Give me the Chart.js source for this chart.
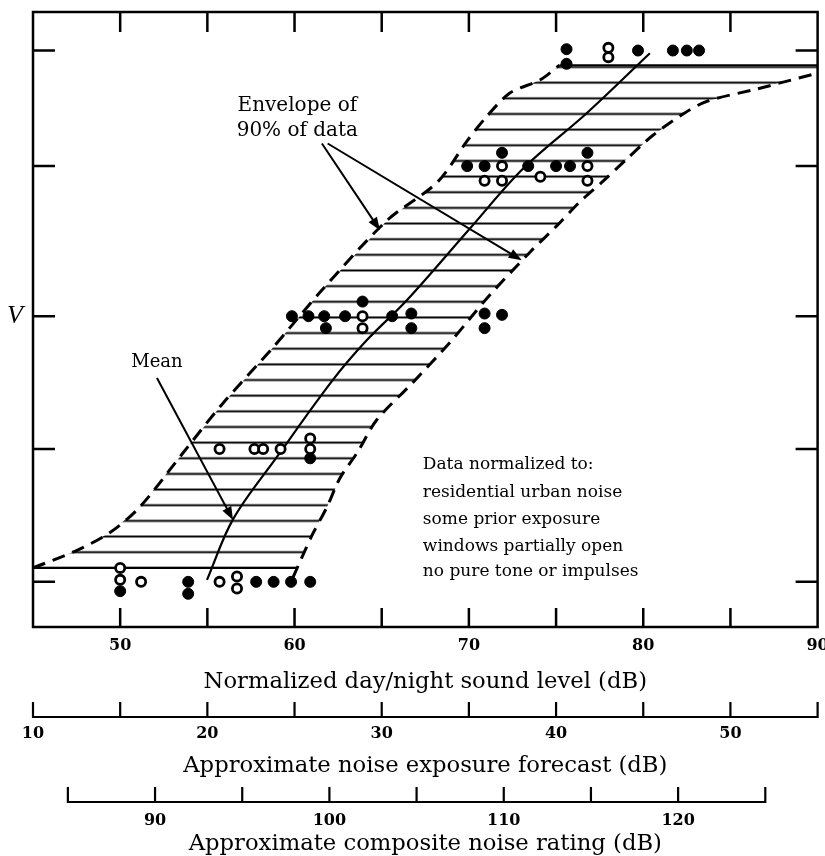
<!DOCTYPE html>
<html><head><meta charset="utf-8">
<script src="https://cdn.jsdelivr.net/npm/chart.js@4.4.1/dist/chart.umd.min.js"></script>
<style>html,body{margin:0;padding:0;background:#fff}canvas{display:block}</style>
</head><body>
<canvas id="c" width="825" height="856"></canvas>
<script>
// ---- axes / tick labels ----
const ldnTickMarks = [50, 55, 60, 65, 70, 75, 80, 85];
const ldnLabels = [50, 60, 70, 80, 90];
const nefTickMarks = [10, 15, 20, 25, 30, 35, 40, 45, 50, 55];
const nefLabels = [10, 20, 30, 40, 50];
const cnrTickMarks = [85, 90, 95, 100, 105, 110, 115, 120, 125];
const cnrLabels = [90, 100, 110, 120];
const reactionLevels = [0, 1, 2, 3.13, 4];
const reactionLabels = ['', '', 'V', '', ''];

// ---- observations (filled / open markers) ----
const filledX = [50.0, 53.9, 53.9, 57.8, 58.8, 59.8, 60.9,
  60.9,
  59.85, 60.8, 61.7, 61.8, 62.9, 63.9, 65.6, 66.7, 66.7, 70.9, 70.9, 71.9,
  69.9, 70.9, 71.9, 73.4, 75.0, 75.8, 76.8,
  75.6, 75.6, 79.7, 81.7, 82.5, 83.2];
const filledY = [-0.07, 0, -0.09, 0, 0, 0, 0,
  0.93,
  2, 2, 2, 1.91, 2, 2.11, 2, 2.02, 1.91, 2.02, 1.91, 2.01,
  3.13, 3.13, 3.23, 3.13, 3.13, 3.13, 3.23,
  4.01, 3.9, 4.0, 4.0, 4.0, 4.0];
const openX = [50.0, 50.0, 51.2, 55.7, 56.7, 56.7,
  55.7, 57.7, 58.2, 59.2, 60.9, 60.9,
  63.9, 63.9,
  70.9, 71.9, 71.9, 74.1, 76.8, 76.8,
  78.0, 78.0];
const openY = [0.105, 0.015, 0, 0, 0.04, -0.05,
  1.0, 1.0, 1.0, 1.0, 1.08, 1.0,
  2.0, 1.91,
  3.02, 3.13, 3.02, 3.05, 3.13, 3.02,
  4.02, 3.95];

// ---- mean curve ----
const meanX = [54.98, 56.47, 58.99, 62.2, 64.15, 66.44, 70.06, 73.1, 76.77, 80.38];
const meanY = [0.015, 0.47, 0.94, 1.52, 1.82, 2.12, 2.66, 3.11, 3.53, 3.98];

// ---- 90% envelope ----
const envLeftX = [45.0, 47.4, 49.4, 51.1, 53.6, 55.8, 58.8, 61.6, 65.3, 68.2, 69.9, 71.0, 72.35, 74.1, 75.2];
const envLeftY = [0.105, 0.23, 0.37, 0.56, 0.97, 1.33, 1.77, 2.2, 2.72, 3.01, 3.32, 3.5, 3.68, 3.78, 3.89];
const envRightX = [59.9, 61.0, 61.85, 62.6, 63.63, 64.72, 66.78, 68.9, 70.05, 71.2, 73.49, 75.04, 76.36, 77.73, 79.11, 80.54, 82.38, 83.7, 86.5, 90.0];
const envRightY = [0.03, 0.35, 0.56, 0.78, 0.98, 1.22, 1.5, 1.8, 1.98, 2.16, 2.48, 2.68, 2.86, 3.02, 3.19, 3.36, 3.53, 3.62, 3.71, 3.83];
const envTopX = [75.2, 90.0];
const envTopY = [3.89, 3.89];
const envBottomX = [45.0, 60.1];
const envBottomY = [0.105, 0.105];

// ---- annotation texts ----
const envelopeText = ['Envelope of', '90% of data'];
const meanText = 'Mean';
const noteLines = ['Data normalized to:', 'residential urban noise', 'some prior exposure', 'windows partially open', 'no pure tone or impulses'];

const pts = (xs, ys) => xs.map((v, i) => ({x: v, y: ys[i]}));

// envelope polygon: left (up), top (right), right (down), bottom (left)
const rightDown = pts(envRightX, envRightY).reverse().filter(p => p.y >= envBottomY[0]);
const envPolygon = [...pts(envLeftX, envLeftY), ...pts(envTopX, envTopY), ...rightDown, ...pts(envBottomX, envBottomY).reverse()];

const SERIF = '"DejaVu Serif", "Liberation Serif", serif';

function makeHatch(ctx) {
  const c = document.createElement('canvas');
  c.width = 8; c.height = 16;
  const g = c.getContext('2d');
  g.fillStyle = '#000';
  g.fillRect(0, 3.5, 8, 2.0);
  const p = ctx.createPattern(c, 'repeat');
  if (p.setTransform) p.setTransform(new DOMMatrix().scale(1, 15.65 / 16));
  return p;
}

function arrow(ctx, x0, y0, x1, y1) {
  const ang = Math.atan2(y1 - y0, x1 - x0), L = 13, W = 5;
  ctx.beginPath();
  ctx.moveTo(x0, y0);
  ctx.lineTo(x1 - Math.cos(ang) * L * 0.8, y1 - Math.sin(ang) * L * 0.8);
  ctx.stroke();
  ctx.beginPath();
  ctx.moveTo(x1, y1);
  ctx.lineTo(x1 - Math.cos(ang) * L - Math.sin(ang) * W, y1 - Math.sin(ang) * L + Math.cos(ang) * W);
  ctx.lineTo(x1 - Math.cos(ang) * L + Math.sin(ang) * W, y1 - Math.sin(ang) * L - Math.cos(ang) * W);
  ctx.closePath();
  ctx.fill();
}

const decor = {
  id: 'decor',
  afterDatasetsDraw(chart) {
    const {ctx, chartArea: a, scales} = chart;
    const {x, y, x2, x3} = scales;
    ctx.save();
    ctx.strokeStyle = '#000'; ctx.fillStyle = '#000';
    ctx.lineWidth = 2.5; ctx.lineCap = 'butt';
    ctx.strokeRect(a.left, a.top, a.right - a.left, a.bottom - a.top);
    ctx.beginPath();
    ldnTickMarks.forEach(v => {
      const px = x.getPixelForValue(v);
      ctx.moveTo(px, a.bottom); ctx.lineTo(px, a.bottom - 19);
      ctx.moveTo(px, a.top); ctx.lineTo(px, a.top + 20);
    });
    reactionLevels.forEach(v => {
      const py = y.getPixelForValue(v);
      ctx.moveTo(a.left, py); ctx.lineTo(a.left + 22, py);
      ctx.moveTo(a.right, py); ctx.lineTo(a.right - 22, py);
    });
    ctx.stroke();
    // secondary scales: baseline with upward ticks
    [[x2, nefTickMarks, 24], [x3, cnrTickMarks, 25]].forEach(([s, marks, off]) => {
      const by = s.top + off;
      ctx.lineWidth = 2.2;
      ctx.beginPath();
      ctx.moveTo(s.getPixelForValue(marks[0]) - 1, by);
      ctx.lineTo(s.getPixelForValue(marks[marks.length - 1]) + 1, by);
      marks.forEach(v => {
        const px = s.getPixelForValue(v);
        ctx.moveTo(px, by + 1); ctx.lineTo(px, by - 15);
      });
      ctx.stroke();
    });
    // arrows (data coordinates)
    ctx.lineWidth = 2;
    const P = (vx, vy) => [x.getPixelForValue(vx), y.getPixelForValue(vy)];
    const arrows = [
      [61.57, 3.30, 64.9, 2.647],
      [61.9, 3.30, 73.03, 2.421],
      [52.11, 1.534, 56.47, 0.466]
    ];
    arrows.forEach(([ax, ay, bx, by]) => {
      const [x0, y0] = P(ax, ay), [x1, y1] = P(bx, by);
      arrow(ctx, x0, y0, x1, y1);
    });
    // texts
    ctx.textBaseline = 'middle';
    ctx.textAlign = 'center';
    ctx.font = '20px ' + SERIF;
    let p = P(60.16, 3.586); ctx.fillText(envelopeText[0], p[0], p[1]);
    p = P(60.16, 3.398); ctx.fillText(envelopeText[1], p[0], p[1]);
    ctx.font = '18px ' + SERIF;
    p = P(52.11, 1.654); ctx.fillText(meanText, p[0], p[1]);
    ctx.textAlign = 'left';
    ctx.font = '17px ' + SERIF;
    const noteY = [0.88, 0.669, 0.466, 0.263, 0.075];
    noteLines.forEach((t, i) => { const q = P(67.36, noteY[i]); ctx.fillText(t, q[0], q[1]); });
    ctx.restore();
  }
};

const ctx = document.getElementById('c').getContext('2d');
const hatch = makeHatch(ctx);

const tickFont = {family: SERIF, size: 16, weight: 'bold'};
const titleFont = {family: SERIF, size: 22.7, lineHeight: 1};
const zeroPad = s => { s.paddingLeft = 0; s.paddingRight = 0; };

new Chart(ctx, {
  type: 'scatter',
  data: {
    datasets: [
      {label: 'filled', data: pts(filledX, filledY), pointRadius: 5.5, pointBackgroundColor: '#000', pointBorderColor: '#000', pointBorderWidth: 1, showLine: false},
      {label: 'open', data: pts(openX, openY), pointRadius: 4.6, pointBackgroundColor: '#fff', pointBorderColor: '#000', pointBorderWidth: 2.8, showLine: false},
      {label: 'mean', data: pts(meanX, meanY), showLine: true, borderColor: '#000', borderWidth: 2.2, pointRadius: 0, tension: 0.35},
      {label: 'envLeft', data: pts(envLeftX, envLeftY), showLine: true, borderColor: '#000', borderWidth: 3, borderDash: [13, 8], pointRadius: 0, tension: 0.3},
      {label: 'envRight', data: pts(envRightX, envRightY), showLine: true, borderColor: '#000', borderWidth: 3, borderDash: [13, 8], pointRadius: 0, tension: 0.3},
      {label: 'envTop', data: pts(envTopX, envTopY), showLine: true, borderColor: '#000', borderWidth: 2, pointRadius: 0},
      {label: 'envBottom', data: pts(envBottomX, envBottomY), showLine: true, borderColor: '#000', borderWidth: 2, pointRadius: 0},
      {label: 'hatch', data: envPolygon, showLine: true, borderWidth: 0, borderColor: 'rgba(0,0,0,0)', backgroundColor: hatch, fill: 'shape', pointRadius: 0, tension: 0}
    ]
  },
  options: {
    responsive: false,
    animation: false,
    events: [],
    layout: {padding: {top: 12, right: 7, left: 0, bottom: 0}},
    plugins: {legend: {display: false}, tooltip: {enabled: false}},
    scales: {
      x: {
        type: 'linear', position: 'bottom', min: 45, max: 90, weight: 0,
        afterBuildTicks: s => { s.ticks = ldnLabels.map(v => ({value: v})); },
        afterFit: s => { s.height = 66; zeroPad(s); },
        grid: {display: false, drawTicks: false}, border: {display: false},
        ticks: {autoSkip: false, maxRotation: 0, padding: 9, color: '#000', font: tickFont, callback: v => String(v)},
        title: {display: true, text: 'Normalized day/night sound level (dB)', color: '#000', font: titleFont, padding: {top: 0, bottom: 0}}
      },
      x2: {
        type: 'linear', axis: 'x', position: 'bottom', min: 10, max: 55, weight: 1,
        afterBuildTicks: s => { s.ticks = nefLabels.map(v => ({value: v})); },
        afterFit: s => { s.height = 84; zeroPad(s); },
        grid: {display: false, drawTicks: false}, border: {display: false},
        ticks: {autoSkip: false, maxRotation: 0, padding: 31, color: '#000', font: tickFont, callback: v => String(v)},
        title: {display: true, text: 'Approximate noise exposure forecast (dB)', color: '#000', font: titleFont, padding: {top: 0, bottom: 0}}
      },
      x3: {
        type: 'linear', axis: 'x', position: 'bottom', min: 83, max: 128, weight: 2,
        afterBuildTicks: s => { s.ticks = cnrLabels.map(v => ({value: v})); },
        afterFit: s => { s.height = 79; zeroPad(s); },
        grid: {display: false, drawTicks: false}, border: {display: false},
        ticks: {autoSkip: false, maxRotation: 0, padding: 34, color: '#000', font: tickFont, callback: v => String(v)},
        title: {display: true, text: 'Approximate composite noise rating (dB)', color: '#000', font: titleFont, padding: {top: 0, bottom: 1}}
      },
      y: {
        type: 'linear', position: 'left', min: -0.34, max: 4.29,
        afterBuildTicks: s => { s.ticks = reactionLevels.map(v => ({value: v})); },
        afterFit: s => { s.width = 33; s.paddingTop = 0; s.paddingBottom = 0; },
        grid: {display: false, drawTicks: false}, border: {display: false},
        ticks: {autoSkip: false, padding: 10, color: '#000', font: {family: '"Liberation Serif", serif', size: 26, style: 'italic'},
          callback: (v, i) => reactionLabels[i]}
      }
    }
  },
  plugins: [decor]
});
</script>
</body></html>
